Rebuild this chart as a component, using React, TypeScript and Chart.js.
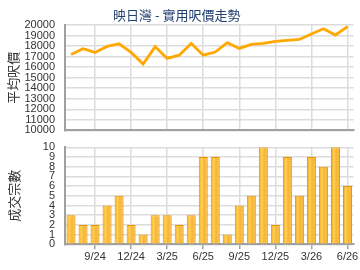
import React, { useEffect, useRef } from 'react';
import { Chart, registerables } from 'chart.js';
Chart.register(...registerables);

const months = ['7/24','8/24','9/24','10/24','11/24','12/24','1/25','2/25','3/25','4/25','5/25','6/25','7/25','8/25','9/25','10/25','11/25','12/25','1/26','2/26','3/26','4/26','5/26','6/26'];
const avgPrice = [17200, 17750, 17400, 17970, 18220, 17400, 16290, 17940, 16830, 17140, 18250, 17140, 17430, 18320, 17780, 18160, 18250, 18440, 18540, 18630, 19140, 19650, 19050, 19840];
const txCount = [3, 2, 2, 4, 5, 2, 1, 3, 3, 2, 3, 9, 9, 1, 4, 5, 10, 2, 9, 5, 9, 8, 10, 6];
const priceMin = 10000;
const priceMax = 20000;
const priceStep = 1000;
const countMin = 0;
const countMax = 10;
const countStep = 1;
const chartTitle = '映日灣 - 實用呎價走勢';
const priceAxisTitle = '平均呎價';
const countAxisTitle = '成交宗數';

const tickFont = { family: '"Liberation Sans", Arial, sans-serif', size: 11 };
const cjkFont = '"Noto Sans CJK TC", "Noto Sans CJK SC", sans-serif';
const gridGray = '#dcdcdc';
const axisGray = '#a0a0a0';

const xGridColor = (ctx: any) => (ctx.index % 3 === 2 ? gridGray : 'rgba(0,0,0,0)');
const xTickColor = (ctx: any) => (ctx.index % 3 === 2 ? axisGray : 'rgba(0,0,0,0)');
const fixYWidth = (scale: any) => { scale.width = 65; };
const plainNum = (v: any) => String(v);

export default function App() {
  const topRef = useRef<HTMLCanvasElement>(null);
  const botRef = useRef<HTMLCanvasElement>(null);

  useEffect(() => {
    const top = new Chart(topRef.current!, {
      type: 'line',
      data: {
        labels: months,
        datasets: [{
          data: avgPrice,
          borderColor: '#ffa800',
          borderWidth: 2.8,
          pointRadius: 0,
          tension: 0,
          fill: false,
        }],
      },
      options: {
        responsive: false,
        animation: false,
        layout: { padding: { left: 0, right: 6.5, top: 0, bottom: 0 } },
        plugins: {
          legend: { display: false },
          tooltip: { enabled: false },
          title: {
            display: true,
            text: chartTitle,
            color: '#1f3f6e',
            font: { family: cjkFont, size: 13, weight: 'normal' },
            padding: { top: 7, bottom: 2.4 },
          },
        },
        scales: {
          x: {
            offset: true,
            grid: { offset: false, color: xGridColor, lineWidth: 1.5, drawTicks: false },
            border: { color: axisGray, width: 2 },
            ticks: { display: false, autoSkip: false },
          },
          y: {
            min: priceMin,
            max: priceMax,
            afterFit: fixYWidth,
            grid: { color: gridGray, lineWidth: 1.5, drawTicks: true, tickLength: 10, tickColor: 'rgba(0,0,0,0)' },
            border: { color: axisGray, width: 2 },
            ticks: { stepSize: priceStep, autoSkip: false, callback: plainNum, font: tickFont, color: '#333', padding: 0 },
            title: {
              display: true,
              text: priceAxisTitle,
              color: '#333',
              font: { family: cjkFont, size: 13 },
              padding: { top: 5, bottom: 0 },
            },
          },
        },
      },
    });

    const bot = new Chart(botRef.current!, {
      type: 'bar',
      data: {
        labels: months,
        datasets: [{
          data: txCount,
          borderColor: '#e89600',
          borderWidth: 1,
          barPercentage: 0.75,
          categoryPercentage: 1,
          backgroundColor: (ctx: any) => {
            const chart = ctx.chart;
            const xs = chart.scales && chart.scales.x;
            if (!xs || !chart.chartArea) return '#f8b733';
            const cx = xs.getPixelForValue(ctx.dataIndex);
            const w = (xs.width / months.length) * 0.75;
            const g = chart.ctx.createLinearGradient(cx - w / 2, 0, cx + w / 2, 0);
            g.addColorStop(0, '#f0a000');
            g.addColorStop(0.3, '#ffcf5c');
            g.addColorStop(0.6, '#f7b531');
            g.addColorStop(0.8, '#fbc04a');
            g.addColorStop(1, '#e99800');
            return g;
          },
        }],
      },
      options: {
        responsive: false,
        animation: false,
        layout: { padding: { left: 0, right: 6.5, top: 12.3, bottom: 5.5 } },
        plugins: {
          legend: { display: false },
          tooltip: { enabled: false },
        },
        scales: {
          x: {
            grid: { offset: false, color: xGridColor, tickColor: xTickColor, lineWidth: 1.5, tickLength: 5 },
            border: { color: axisGray, width: 2 },
            ticks: {
              autoSkip: false,
              maxRotation: 0,
              padding: 1,
              font: tickFont,
              color: '#333',
              callback: (_v: any, i: number) => (i % 3 === 2 ? months[i] : ''),
            },
          },
          y: {
            min: countMin,
            max: countMax,
            afterFit: fixYWidth,
            grid: { color: gridGray, lineWidth: 1.5, drawTicks: true, tickLength: 10, tickColor: 'rgba(0,0,0,0)' },
            border: { color: axisGray, width: 2 },
            ticks: { stepSize: countStep, autoSkip: false, callback: plainNum, font: tickFont, color: '#333', padding: 0 },
            title: {
              display: true,
              text: countAxisTitle,
              color: '#333',
              font: { family: cjkFont, size: 13 },
              padding: { top: 6, bottom: 0 },
            },
          },
        },
      },
    });

    return () => { top.destroy(); bot.destroy(); };
  }, []);

  return (
    <div style={{ position: 'fixed', left: 0, top: 0, width: 360, height: 270, background: '#fff' }}>
      <canvas ref={topRef} width={360} height={137} style={{ position: 'absolute', left: 0, top: 0 }} />
      <canvas ref={botRef} width={360} height={135} style={{ position: 'absolute', left: 0, top: 135 }} />
    </div>
  );
}
